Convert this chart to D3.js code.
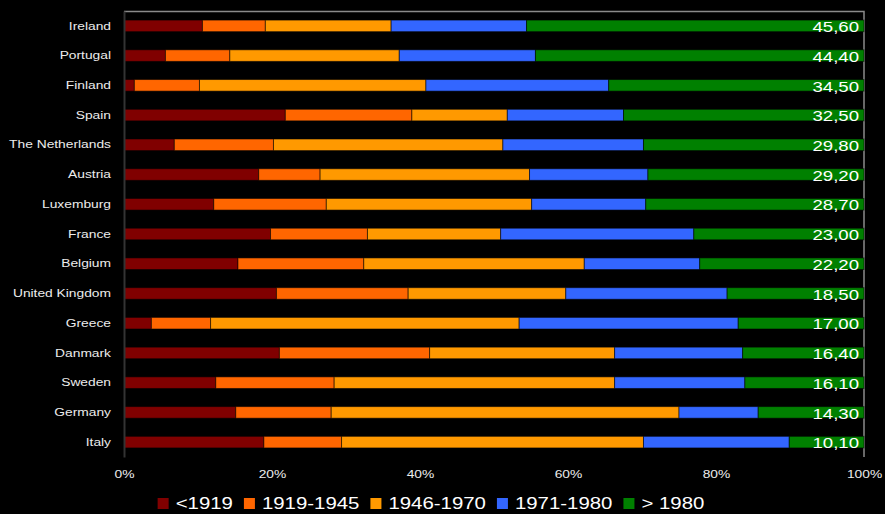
<!DOCTYPE html>
<html>
<head>
<meta charset="utf-8">
<script src="https://cdn.jsdelivr.net/npm/d3@7"></script>
<style>
  html, body { margin:0; padding:0; background:#000; }
  svg { display:block; }
  text { font-family: "Liberation Sans", Arial, sans-serif; }
</style>
</head>
<body>
<svg id="drawing_region"></svg>
<script>
// data (share of dwellings by construction period)
const countries = ["Ireland","Portugal","Finland","Spain","The Netherlands","Austria","Luxemburg","France","Belgium","United Kingdom","Greece","Danmark","Sweden","Germany","Italy"]
const periods = ["<1919","1919-1945","1946-1970","1971-1980","> 1980"]
const before1919 = [10.6, 5.6, 1.4, 21.8, 6.8, 18.2, 11.8, 19.8, 15.4, 20.6, 3.7, 21.0, 12.4, 15.1, 18.9]
const p1919_1945 = [8.5, 8.7, 8.8, 17.1, 13.4, 8.3, 14.8, 13.1, 17.0, 17.8, 8.0, 20.3, 16.0, 12.9, 10.5]
const p1946_1970 = [17.0, 22.9, 30.6, 12.9, 31.0, 28.3, 27.0, 18.0, 29.8, 21.3, 41.7, 25.0, 37.9, 47.0, 40.8]
const p1971_1980 = [18.3, 18.4, 24.7, 15.7, 19.0, 16.0, 15.0, 26.1, 15.6, 21.8, 29.6, 17.3, 17.6, 10.7, 19.7]
const after1980 = [45.6, 44.4, 34.5, 32.5, 29.8, 29.2, 28.7, 23.0, 22.2, 18.5, 17.0, 16.4, 16.1, 14.3, 10.1]
const xticks = [0, 0.2, 0.4, 0.6, 0.8, 1]
const colors = ["#800000","#ff6600","#ff9900","#3366ff","#008000"]

const config = {
    width:885,
    height:514,
    margin:{top:11,right:21,bottom:57,left:124}
}
const inner_width = config.width-config.margin.left-config.margin.right
const inner_height = config.height-config.margin.top-config.margin.bottom
const stretch = "scale(1.2,1)" // the original text looks widened

const table = countries.map((c,i)=>({
    country:c,
    "<1919":before1919[i],
    "1919-1945":p1919_1945[i],
    "1946-1970":p1946_1970[i],
    "1971-1980":p1971_1980[i],
    "> 1980":after1980[i]
}))

const series = d3.stack()
    .keys(periods)
    .offset(d3.stackOffsetExpand)(table)

const svg = d3.select("#drawing_region")
    .attr("width",config.width)
    .attr("height",config.height)

svg.append("rect")
    .attr("width",config.width)
    .attr("height",config.height)
    .attr("fill","#000")

const chart = svg.append("g")
    .attr("transform",`translate(${config.margin.left},${config.margin.top})`)

const xscale = d3.scaleLinear()
    .domain([0,1])
    .range([0,inner_width])
const yscale = d3.scaleBand()
    .domain(countries)
    .range([0,inner_height])
    .paddingInner(0.61)
    .paddingOuter(0.305)
const color = d3.scaleOrdinal().domain(periods).range(colors)

// plot area border (top and right only, as in the original)
chart.append("path")
    .attr("d",`M0,0.5H${inner_width}V${inner_height}`)
    .attr("fill","none")
    .attr("stroke","#8a8a8a")
    .attr("stroke-width",1.5)

// bars
chart.selectAll(".series")
    .data(series)
    .join("g")
    .attr("class","series")
    .attr("fill",d=>color(d.key))
    .selectAll("rect")
    .data(d=>d)
    .join("rect")
    .attr("x",d=>xscale(d[0]))
    .attr("y",d=>yscale(d.data.country))
    .attr("width",d=>xscale(d[1])-xscale(d[0]))
    .attr("height",yscale.bandwidth())
    .attr("stroke","rgba(0,0,0,0.55)")
    .attr("stroke-width",1)

// left axis (dark line, no labels on the line itself)
const yaxis = d3.axisLeft(yscale).tickSize(0).tickPadding(13)
const yaxis_group = chart.append("g").call(yaxis)
yaxis_group.select(".domain")
    .attr("stroke","#333")
    .attr("stroke-width",2)
yaxis_group.selectAll("text")
    .attr("fill","#ececec")
    .attr("font-size","11.5px")
    .attr("font-family","'Liberation Sans', Arial, sans-serif")
    .attr("transform",stretch)
    .attr("x",-13/1.2)

// bottom axis, labels only
const xaxis = d3.axisBottom(xscale)
    .tickValues(xticks)
    .tickFormat(d3.format(".0%"))
    .tickSize(0)
    .tickPadding(13)
const xaxis_group = chart.append("g")
    .attr("transform",`translate(0,${inner_height})`)
    .call(xaxis)
xaxis_group.select(".domain").remove()
xaxis_group.selectAll("text")
    .attr("fill","#ececec")
    .attr("font-size","11.5px")
    .attr("font-family","'Liberation Sans', Arial, sans-serif")
    .attr("transform",stretch)

// value labels of the last series at the right end of each bar
const fmt = v=>d3.format(".2f")(v).replace(".",",")
chart.selectAll(".value")
    .data(table)
    .join("text")
    .attr("class","value")
    .attr("transform",d=>`translate(${inner_width-5},${yscale(d.country)+yscale.bandwidth()/2}) ${stretch}`)
    .attr("dy","0.4em")
    .attr("text-anchor","end")
    .attr("fill","#fff")
    .attr("font-size","15.5px")
    .text(d=>fmt(d["> 1980"]))

// legend
const legend = svg.append("g")
const items = legend.selectAll("g")
    .data(periods)
    .join("g")
items.append("rect")
    .attr("width",11)
    .attr("height",11)
    .attr("y",-5)
    .attr("fill",d=>color(d))
items.append("text")
    .attr("transform",`translate(18,0) ${stretch}`)
    .attr("dy","0.38em")
    .attr("fill","#fff")
    .attr("font-size","17px")
    .text(d=>d)
let offset = 0
items.each(function(){
    const g = d3.select(this)
    g.attr("transform",`translate(${offset},0)`)
    const w = g.select("text").node().getComputedTextLength()*1.2
    offset += 18+w+11
})
const total = offset-11
legend.attr("transform",`translate(${431-total/2},503)`)
</script>
</body>
</html>
